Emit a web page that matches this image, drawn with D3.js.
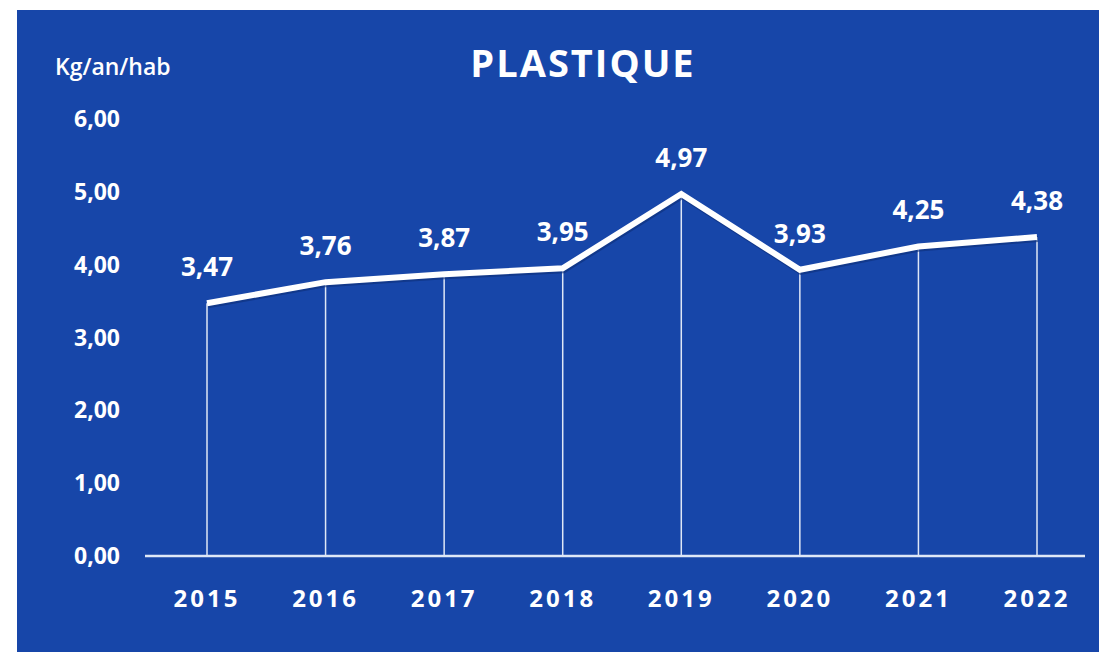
<!DOCTYPE html>
<html>
<head>
<meta charset="utf-8">
<script src="https://cdn.jsdelivr.net/npm/d3@7"></script>
<style>
    body { margin: 0; background: #fff; }
    svg { display: block; }
    text { font-family: "Open Sans", Lato, sans-serif; fill: #fff; }
</style>
</head>
<body>
<svg id="chart" width="1099" height="656"></svg>
<script>
// chart values
var years = ['2015', '2016', '2017', '2018', '2019', '2020', '2021', '2022'];
var values = [3.47, 3.76, 3.87, 3.95, 4.97, 3.93, 4.25, 4.38];
var yTicks = [0, 1, 2, 3, 4, 5, 6];

var svg = d3.select('#chart');
var fmt = function (v) {
    return v.toFixed(2).replace('.', ',');
};

// blue panel
svg.append('rect')
    .attr('x', 17).attr('y', 10)
    .attr('width', 1082).attr('height', 642)
    .attr('fill', '#1746a9');

var x = d3.scalePoint()
    .domain(years)
    .range([207, 1037]);

var y = d3.scaleLinear()
    .domain([0, 6])
    .range([556, 119]);

// y tick labels
svg.append('g')
    .selectAll('text')
    .data(yTicks)
    .enter()
    .append('text')
    .attr('x', 120)
    .attr('y', function (d) { return y(d); })
    .attr('dy', '0.35em')
    .attr('text-anchor', 'end')
    .style('font-size', '23px')
    .style('font-weight', 700)
    .text(fmt);

// baseline
svg.append('line')
    .attr('x1', 145).attr('x2', 1085)
    .attr('y1', y(0)).attr('y2', y(0))
    .style('stroke', '#dfe8f7')
    .style('stroke-width', 2.5);

// x labels
svg.append('g')
    .selectAll('text')
    .data(years)
    .enter()
    .append('text')
    .attr('x', function (d) { return x(d); })
    .attr('y', 607)
    .attr('text-anchor', 'middle')
    .style('font-size', '24px')
    .style('font-weight', 700)
    .style('letter-spacing', '3px')
    .text(function (d) { return d; });

// drop lines
svg.append('g')
    .selectAll('line')
    .data(values)
    .enter()
    .append('line')
    .attr('x1', function (d, i) { return x(years[i]); })
    .attr('x2', function (d, i) { return x(years[i]); })
    .attr('y1', function (d) { return y(d); })
    .attr('y2', y(0))
    .style('stroke', '#dfe7f6')
    .style('stroke-width', 1.5);

// main line
var line = d3.line()
    .x(function (d, i) { return x(years[i]); })
    .y(function (d) { return y(d); });

svg.append('path')
    .datum(values)
    .attr('d', line)
    .attr('transform', 'translate(1,2)')
    .style('fill', 'none')
    .style('stroke', '#0d2f78')
    .style('stroke-width', 6)
    .style('opacity', 0.6);

svg.append('path')
    .datum(values)
    .attr('d', line)
    .style('fill', 'none')
    .style('stroke', '#fff')
    .style('stroke-width', 6)
    .style('stroke-linejoin', 'miter');

// value labels
svg.append('g')
    .selectAll('text')
    .data(values)
    .enter()
    .append('text')
    .attr('x', function (d, i) { return x(years[i]); })
    .attr('y', function (d) { return y(d) - 27; })
    .attr('text-anchor', 'middle')
    .style('font-size', '26px')
    .style('font-weight', 700)
    .text(fmt);

// titles
svg.append('text')
    .attr('x', 583).attr('y', 77)
    .attr('text-anchor', 'middle')
    .style('font-size', '38px')
    .style('font-weight', 700)
    .style('letter-spacing', '2px')
    .text('PLASTIQUE');

svg.append('text')
    .attr('x', 55).attr('y', 75)
    .style('font-size', '23px')
    .style('font-weight', 600)
    .text('Kg/an/hab');
</script>
</body>
</html>
